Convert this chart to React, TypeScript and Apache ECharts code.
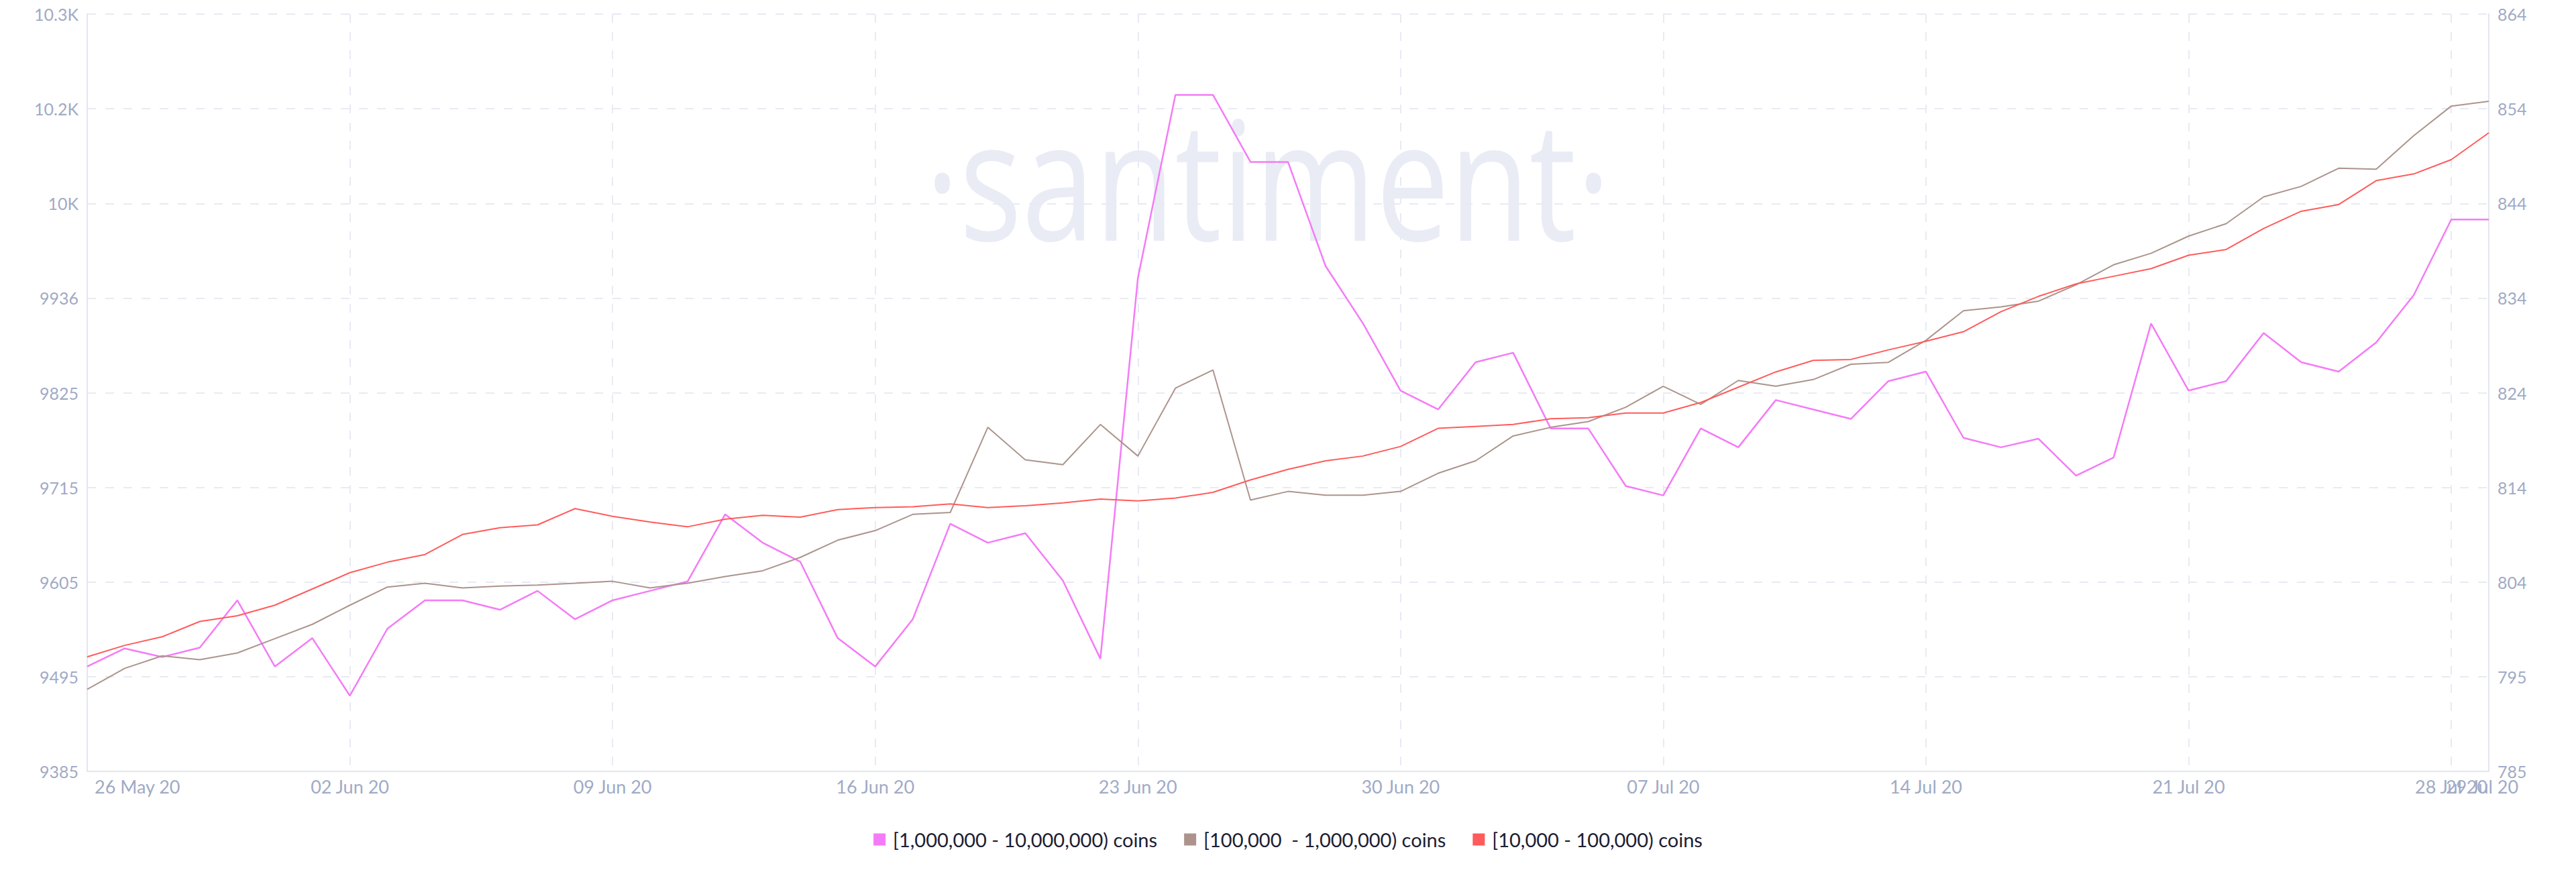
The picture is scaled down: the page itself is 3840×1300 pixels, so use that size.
import React, { useEffect, useRef } from 'react';
import * as echarts from 'echarts';

const dates = [
  '26 May 20', '27 May 20', '28 May 20', '29 May 20', '30 May 20', '31 May 20',
  '01 Jun 20', '02 Jun 20', '03 Jun 20', '04 Jun 20', '05 Jun 20', '06 Jun 20', '07 Jun 20', '08 Jun 20', '09 Jun 20',
  '10 Jun 20', '11 Jun 20', '12 Jun 20', '13 Jun 20', '14 Jun 20', '15 Jun 20', '16 Jun 20', '17 Jun 20', '18 Jun 20',
  '19 Jun 20', '20 Jun 20', '21 Jun 20', '22 Jun 20', '23 Jun 20', '24 Jun 20', '25 Jun 20', '26 Jun 20', '27 Jun 20',
  '28 Jun 20', '29 Jun 20', '30 Jun 20',
  '01 Jul 20', '02 Jul 20', '03 Jul 20', '04 Jul 20', '05 Jul 20', '06 Jul 20', '07 Jul 20', '08 Jul 20', '09 Jul 20',
  '10 Jul 20', '11 Jul 20', '12 Jul 20', '13 Jul 20', '14 Jul 20', '15 Jul 20', '16 Jul 20', '17 Jul 20', '18 Jul 20',
  '19 Jul 20', '20 Jul 20', '21 Jul 20', '22 Jul 20', '23 Jul 20', '24 Jul 20', '25 Jul 20', '26 Jul 20', '27 Jul 20',
  '28 Jul 20', '29 Jul 20',
];

// [1,000,000 - 10,000,000) coins  (left axis)
const holders1Mto10M = [
  9507, 9528, 9518, 9529, 9584, 9507, 9540, 9473, 9551, 9584,
  9584, 9573, 9595, 9562, 9584, 9595, 9606, 9684, 9651, 9629,
  9540, 9507, 9562, 9673, 9651, 9662, 9607, 9516, 9959, 10172,
  10172, 10094, 10094, 9973, 9906, 9828, 9806, 9861, 9872, 9784,
  9784, 9717, 9706, 9784, 9762, 9817, 9806, 9795, 9839, 9850,
  9773, 9762, 9772, 9729, 9750, 9906, 9828, 9839, 9895, 9861,
  9850, 9884, 9939, 10027, 10027,
];

// [100,000 - 1,000,000) coins  (right axis)
const holders100kTo1M = [
  793.2, 795.4, 796.7, 796.3, 797.0, 798.5, 800.0, 802.0, 803.9, 804.3,
  803.8, 804.0, 804.1, 804.3, 804.5, 803.8, 804.3, 805.0, 805.6, 807.0,
  808.8, 809.8, 811.5, 811.7, 820.6, 817.2, 816.7, 820.9, 817.6, 824.7,
  826.6, 813.0, 813.9, 813.5, 813.5, 813.9, 815.8, 817.1, 819.7, 820.6,
  821.2, 822.7, 824.9, 823.0, 825.5, 824.9, 825.6, 827.2, 827.4, 829.7,
  832.8, 833.2, 833.8, 835.5, 837.6, 838.8, 840.6, 841.9, 844.7, 845.8,
  847.7, 847.6, 851.1, 854.2, 854.7,
];

// [10,000 - 100,000) coins  (right axis)
const holders10kTo100k = [
  796.6, 797.8, 798.7, 800.3, 800.9, 802.0, 803.7, 805.4, 806.5, 807.3,
  809.4, 810.1, 810.4, 812.1, 811.3, 810.7, 810.2, 811.0, 811.4, 811.2,
  812.0, 812.2, 812.3, 812.6, 812.2, 812.4, 812.7, 813.1, 812.9, 813.2,
  813.8, 815.1, 816.2, 817.1, 817.6, 818.6, 820.5, 820.7, 820.9, 821.5,
  821.6, 822.1, 822.1, 823.2, 824.8, 826.4, 827.6, 827.7, 828.7, 829.6,
  830.6, 832.7, 834.3, 835.6, 836.4, 837.2, 838.6, 839.2, 841.4, 843.2,
  843.9, 846.4, 847.1, 848.6, 851.4,
];

const seriesNames = [
  '[1,000,000 - 10,000,000) coins',
  '[100,000  - 1,000,000) coins',
  '[10,000 - 100,000) coins',
];

const leftMin = 9385;
const leftMax = 10265.96;
const leftInterval = 110.12;
const rightMin = 784.62;
const rightMax = 863.82;
const rightInterval = 9.9;

const COLORS = ['#f47bf7', '#ac948c', '#ff5b5b'];
const LABEL_COLOR = '#a0aac6';
const GRID_COLOR = '#e8eaf4';
const AXIS_COLOR = '#e3e6f0';
const FONT = 'Lato, "Open Sans", sans-serif';

function formatLeft(v: number): string {
  if (v >= 10000) return `${parseFloat((v / 1000).toFixed(1))}K`;
  return `${Math.round(v)}`;
}

export default function App() {
  const ref = useRef<HTMLDivElement>(null);

  useEffect(() => {
    if (!ref.current) return;
    const chart = echarts.init(ref.current, null, { renderer: 'svg' });
    const lastIndex = dates.length - 1;
    const xLabelBase = { color: LABEL_COLOR, fontSize: 27, fontFamily: FONT, margin: 9 };
    const option: any = {
      animation: false,
      backgroundColor: '#ffffff',
      grid: { left: 130, right: 130, top: 21, bottom: 150, containLabel: false },
      graphic: [
        {
          type: 'text',
          x: 1890,
          y: 263,
          scaleX: 0.79,
          z: -10,
          silent: true,
          style: {
            text: '·santiment·',
            fontSize: 247,
            fontFamily: '"Open Sans", sans-serif',
            fontWeight: 'normal',
            fill: '#e9ecf5',
            align: 'center',
            textAlign: 'center',
            verticalAlign: 'middle',
            textVerticalAlign: 'middle',
          },
        },
      ],
      legend: {
        data: seriesNames,
        left: 'center',
        top: 1232,
        icon: 'rect',
        itemWidth: 18,
        itemHeight: 18,
        itemGap: 40,
        itemStyle: { borderWidth: 0 },
        textStyle: { color: '#1c2033', fontSize: 29, fontFamily: FONT, padding: [0, 0, 0, 6] },
      },
      xAxis: [
        {
          type: 'category',
          data: dates,
          boundaryGap: false,
          position: 'bottom',
          axisLine: { show: true, onZero: false, lineStyle: { color: AXIS_COLOR, width: 2 } },
          axisTick: { show: false },
          axisLabel: {
            ...xLabelBase,
            interval: (i: number) => i % 7 === 0,
            hideOverlap: false,
            alignMinLabel: 'left',
            formatter: (v: string, i: number) => (i === 0 ? `{first|${v}}` : v),
            rich: {
              first: { padding: [0, 0, 0, 11], color: LABEL_COLOR, fontSize: 27, fontFamily: FONT },
            },
          },
          splitLine: {
            show: true,
            interval: (i: number) => i > 0 && i % 7 === 0,
            lineStyle: { type: [13, 14], color: GRID_COLOR, width: 2 },
          },
        },
        {
          type: 'category',
          data: dates,
          boundaryGap: false,
          position: 'bottom',
          gridIndex: 0,
          axisLine: { show: false, onZero: false },
          axisTick: { show: false },
          splitLine: { show: false },
          axisLabel: {
            ...xLabelBase,
            interval: (i: number) => i === lastIndex,
            showMaxLabel: true,
            showMinLabel: false,
            hideOverlap: false,
            formatter: (v: string) => `{last|${v}}`,
            rich: {
              last: { padding: [0, 20, 0, 0], color: LABEL_COLOR, fontSize: 27, fontFamily: FONT },
            },
          },
        },
      ],
      yAxis: [
        {
          type: 'value',
          position: 'left',
          min: leftMin,
          max: leftMax,
          interval: leftInterval,
          axisLine: { show: true, onZero: false, lineStyle: { color: AXIS_COLOR, width: 2 } },
          axisTick: { show: false },
          axisLabel: { formatter: formatLeft, color: LABEL_COLOR, fontSize: 25, fontFamily: FONT, margin: 13 },
          splitLine: { show: true, lineStyle: { type: [13, 14], color: GRID_COLOR, width: 2 } },
        },
        {
          type: 'value',
          position: 'right',
          min: rightMin,
          max: rightMax,
          interval: rightInterval,
          axisLine: { show: true, onZero: false, lineStyle: { color: AXIS_COLOR, width: 2 } },
          axisTick: { show: false },
          axisLabel: {
            formatter: (v: number) => `${Math.round(v)}`,
            color: LABEL_COLOR,
            fontSize: 25,
            fontFamily: FONT,
            margin: 13,
          },
          splitLine: { show: false },
        },
      ],
      series: [
        {
          name: seriesNames[0],
          type: 'line',
          xAxisIndex: 0,
          yAxisIndex: 0,
          data: holders1Mto10M,
          symbol: 'none',
          lineStyle: { color: COLORS[0], width: 2.5 },
          itemStyle: { color: COLORS[0] },
        },
        {
          name: seriesNames[1],
          type: 'line',
          xAxisIndex: 0,
          yAxisIndex: 1,
          data: holders100kTo1M,
          symbol: 'none',
          lineStyle: { color: COLORS[1], width: 2 },
          itemStyle: { color: COLORS[1] },
        },
        {
          name: seriesNames[2],
          type: 'line',
          xAxisIndex: 0,
          yAxisIndex: 1,
          data: holders10kTo100k,
          symbol: 'none',
          lineStyle: { color: COLORS[2], width: 2 },
          itemStyle: { color: COLORS[2] },
        },
      ],
    };
    chart.setOption(option);
    return () => chart.dispose();
  }, []);

  return (
    <div
      ref={ref}
      style={{ position: 'fixed', left: 0, top: 0, width: 3840, height: 1300, background: '#ffffff' }}
    />
  );
}
